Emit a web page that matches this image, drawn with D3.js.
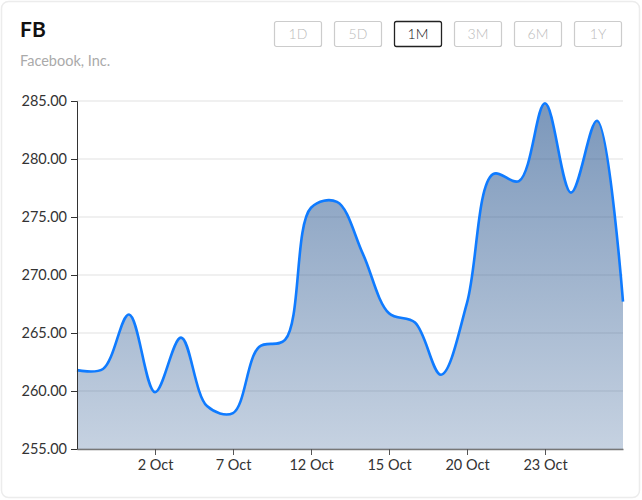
<!DOCTYPE html>
<html>
<head>
<meta charset="utf-8">
<script src="https://cdn.jsdelivr.net/npm/d3@7"></script>
<style>
  html, body { margin: 0; padding: 0; background: #fff; }
  svg { display: block; font-family: Lato, "Open Sans", sans-serif; }
</style>
</head>
<body>
<svg id="chart" width="642" height="500"></svg>
<script>
// ---- data ----
const dates = ["2020-09-29","2020-09-30","2020-10-01","2020-10-02","2020-10-05","2020-10-06",
  "2020-10-07","2020-10-08","2020-10-09","2020-10-12","2020-10-13","2020-10-14","2020-10-15",
  "2020-10-16","2020-10-19","2020-10-20","2020-10-21","2020-10-22","2020-10-23","2020-10-26",
  "2020-10-27","2020-10-28"];
const closes = [261.8, 261.9, 266.6, 259.9, 264.6, 258.7, 258.1, 263.8, 264.4, 275.8, 276.3,
  271.8, 266.7, 265.9, 261.4, 267.6, 278.7, 278.1, 284.8, 277.1, 283.3, 267.7];
const tickDates = ["2020-10-02","2020-10-07","2020-10-12","2020-10-15","2020-10-20","2020-10-23"];
const tickLabels = ["2 Oct","7 Oct","12 Oct","15 Oct","20 Oct","23 Oct"];
const yTicks = [255, 260, 265, 270, 275, 280, 285];
const ranges = ["1D","5D","1M","3M","6M","1Y"];
const activeRange = "1M";
const symbol = "FB";
const company = "Facebook, Inc.";

const data = dates.map((d, i) => ({ date: d, close: closes[i] }));

const svg = d3.select("#chart");

// card
svg.append("rect").attr("x", 1.5).attr("y", 1.5).attr("width", 638).attr("height", 496)
  .attr("rx", 7).attr("fill", "#fff").attr("stroke", "#ececec").attr("stroke-width", 1.5);

// header
svg.append("text").attr("x", 20).attr("y", 37).text(symbol)
  .attr("font-size", 21).attr("font-weight", 700).attr("fill", "#111");
svg.append("text").attr("x", 20).attr("y", 66).text(company)
  .attr("font-size", 14.5).attr("fill", "#aaa");

// range buttons
const btn = svg.append("g").selectAll("g").data(ranges).join("g")
  .attr("transform", (d, i) => `translate(${274 + i * 60},21)`);
btn.append("rect").attr("x", 0.5).attr("y", 0.5).attr("width", 47).attr("height", 25).attr("rx", 2)
  .attr("fill", "#fff")
  .attr("stroke", d => d === activeRange ? "#222" : "#ccc")
  .attr("stroke-width", d => d === activeRange ? 1.3 : 1.2);
btn.append("text").attr("x", 24).attr("y", 18).attr("text-anchor", "middle")
  .attr("font-size", 14).attr("font-weight", 300)
  .attr("fill", d => d === activeRange ? "#111" : "#bbb").text(d => d);

// scales
const x = d3.scalePoint().domain(dates).range([77, 623]);
const y = d3.scaleLinear().domain([255, 285]).range([449, 101]);

// grid
svg.append("g").selectAll("line").data(yTicks).join("line")
  .attr("x1", 77).attr("x2", 623).attr("y1", d => y(d)).attr("y2", d => y(d))
  .attr("stroke", "#ebebeb").attr("stroke-width", 1.5);

// gradient
const defs = svg.append("defs");
const grad = defs.append("linearGradient").attr("id", "fillGrad")
  .attr("gradientUnits", "userSpaceOnUse").attr("x1", 0).attr("x2", 0).attr("y1", 101).attr("y2", 449);
grad.append("stop").attr("offset", "0%").attr("stop-color", "#2a5790").attr("stop-opacity", 0.62);
grad.append("stop").attr("offset", "100%").attr("stop-color", "#2a5790").attr("stop-opacity", 0.27);

const curve = d3.curveCatmullRom.alpha(0.5);
const area = d3.area().x(d => x(d.date)).y0(449).y1(d => y(d.close)).curve(curve);
const line = d3.line().x(d => x(d.date)).y(d => y(d.close)).curve(curve);

svg.append("path").datum(data).attr("d", area).attr("fill", "url(#fillGrad)");
svg.append("path").datum(data).attr("d", line).attr("fill", "none")
  .attr("stroke", "#0f7bff").attr("stroke-width", 2.6);

// axes
const yAxis = svg.append("g").attr("transform", "translate(77,0)")
  .call(d3.axisLeft(y).tickValues(yTicks).tickFormat(d3.format(".2f")).tickSize(6).tickPadding(4));
yAxis.select(".domain").attr("stroke", "#333");
yAxis.selectAll(".tick line").attr("stroke", "#333");
yAxis.selectAll("text").attr("font-size", 14.5).attr("fill", "#333").attr("font-family", "Lato, sans-serif");

const xAxis = svg.append("g").attr("transform", "translate(0,449)")
  .call(d3.axisBottom(x).tickValues(tickDates)
    .tickFormat(d => tickLabels[tickDates.indexOf(d)]).tickSize(6).tickSizeOuter(0).tickPadding(5));
xAxis.select(".domain").attr("stroke", "#777").attr("stroke-width", 1.5);
xAxis.selectAll(".tick line").attr("stroke", "#555");
xAxis.selectAll("text").attr("font-size", 14.5).attr("fill", "#333").attr("font-family", "Lato, sans-serif");
</script>
</body>
</html>
